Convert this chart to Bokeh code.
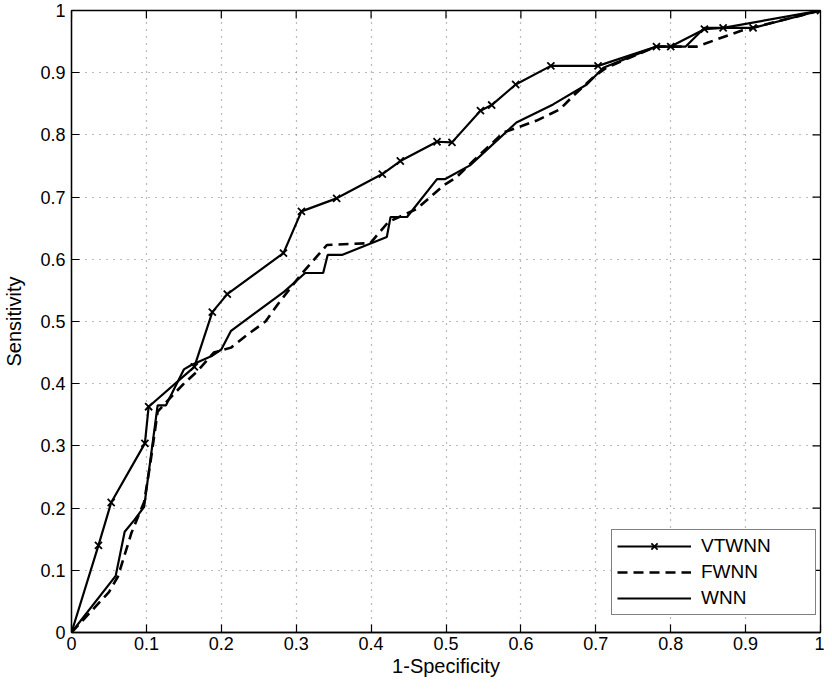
import math
from bokeh.plotting import figure
from bokeh.models import Range1d, FixedTicker, Legend, LegendItem
from bokeh.embed import file_html
from bokeh.resources import INLINE

# ---- data ----
vtwnn_x = [0, 0.036, 0.053, 0.098, 0.103, 0.164, 0.188, 0.208, 0.283, 0.307, 0.354,
           0.415, 0.439, 0.488, 0.508, 0.546, 0.561, 0.593, 0.640, 0.703, 0.781,
           0.800, 0.845, 0.870, 0.910, 1.0]
vtwnn_y = [0, 0.140, 0.209, 0.304, 0.363, 0.427, 0.515, 0.544, 0.610, 0.677, 0.698,
           0.737, 0.758, 0.789, 0.788, 0.839, 0.848, 0.881, 0.911, 0.911, 0.942,
           0.942, 0.970, 0.972, 0.972, 1.0]

fwnn_x = [0, 0.050, 0.062, 0.080, 0.097, 0.105, 0.115, 0.130, 0.150, 0.168, 0.190,
          0.213, 0.235, 0.259, 0.275, 0.306, 0.341, 0.399, 0.423, 0.461, 0.497,
          0.514, 0.537, 0.577, 0.621, 0.652, 0.670, 0.696, 0.714, 0.745, 0.781,
          0.835, 0.895, 1.0]
fwnn_y = [0, 0.065, 0.090, 0.160, 0.210, 0.270, 0.355, 0.375, 0.400, 0.420, 0.450,
          0.458, 0.479, 0.500, 0.527, 0.575, 0.623, 0.626, 0.660, 0.681, 0.719,
          0.732, 0.759, 0.804, 0.823, 0.841, 0.863, 0.892, 0.908, 0.924, 0.942,
          0.942, 0.968, 1.0]

wnn_x = [0, 0.059, 0.071, 0.084, 0.097, 0.115, 0.126, 0.150, 0.160, 0.188, 0.200,
         0.213, 0.284, 0.312, 0.336, 0.342, 0.361, 0.421, 0.426, 0.448, 0.488,
         0.499, 0.532, 0.594, 0.643, 0.688, 0.710, 0.781, 0.820, 0.845, 0.870, 1.0]
wnn_y = [0, 0.091, 0.162, 0.181, 0.202, 0.365, 0.365, 0.423, 0.430, 0.445, 0.455,
         0.485, 0.548, 0.578, 0.578, 0.607, 0.607, 0.636, 0.668, 0.668, 0.729,
         0.729, 0.751, 0.820, 0.849, 0.881, 0.908, 0.942, 0.942, 0.972, 0.972, 1.0]

ticks = [0, 0.1, 0.2, 0.3, 0.4, 0.5, 0.6, 0.7, 0.8, 0.9, 1.0]
tick_labels = ["0", "0.1", "0.2", "0.3", "0.4", "0.5", "0.6", "0.7", "0.8", "0.9", "1"]

FONT = "Liberation Sans"

p = figure(width=824, height=684, output_backend="svg", toolbar_location=None,
           x_range=Range1d(0, 1), y_range=Range1d(0, 1),
           min_border_left=69, min_border_right=4, min_border_top=10, min_border_bottom=52,
           background_fill_color="white", border_fill_color="white")
p.outline_line_color = "black"
p.outline_line_width = 1.3

overrides = {t: l for t, l in zip(ticks, tick_labels)}

for ax in (p.xaxis[0], p.yaxis[0]):
    ax.ticker = FixedTicker(ticks=ticks)
    ax.major_label_overrides = overrides
    ax.major_tick_in = 8
    ax.major_tick_out = 0
    ax.minor_tick_in = 0
    ax.minor_tick_out = 0
    ax.axis_line_color = "black"
    ax.axis_line_width = 1.3
    ax.major_tick_line_color = "black"
    ax.major_tick_line_width = 1.2
    ax.major_label_text_font = FONT
    ax.major_label_text_font_size = "18px"
    ax.major_label_text_color = "black"
    ax.axis_label_text_font = FONT
    ax.axis_label_text_font_size = "20px"
    ax.axis_label_text_font_style = "normal"
    ax.axis_label_text_color = "black"

p.xaxis.axis_label = "1-Specificity"
p.yaxis.axis_label = "Sensitivity"
p.xaxis.major_label_standoff = 4
p.xaxis.axis_label_standoff = 2
p.yaxis.major_label_standoff = 6
p.yaxis.axis_label_standoff = 12

# mirror ticks on the top and right edges of the box (clipped to the frame)
top_y = [ticks[-1]] * len(ticks)
right_x = [ticks[-1]] * len(ticks)
p.scatter(ticks, top_y, marker="dash", angle=math.pi / 2, size=16,
          line_color="black", line_width=1.2)
p.scatter(right_x, ticks, marker="dash", size=16, line_color="black", line_width=1.2)

for g in (p.xgrid[0], p.ygrid[0]):
    g.ticker = FixedTicker(ticks=ticks[1:-1])
    g.grid_line_color = "#555555"
    g.grid_line_dash = "1 6"
    g.grid_line_width = 1.2
    g.grid_line_alpha = 0.8

r_v = p.line(vtwnn_x, vtwnn_y, line_color="black", line_width=2.2)
r_vm = p.scatter(vtwnn_x, vtwnn_y, marker="x", size=10, line_color="black", line_width=1.8)
r_f = p.line(fwnn_x, fwnn_y, line_color="black", line_width=2.6, line_dash="10 6")
r_w = p.line(wnn_x, wnn_y, line_color="black", line_width=2.2)

legend = Legend(items=[LegendItem(label="VTWNN", renderers=[r_v, r_vm]),
                       LegendItem(label="FWNN", renderers=[r_f]),
                       LegendItem(label="WNN", renderers=[r_w])],
                location=(540, 17))
legend.label_text_font = FONT
legend.label_text_font_size = "19px"
legend.label_text_color = "black"
legend.glyph_width = 74
legend.glyph_height = 22
legend.label_height = 22
legend.label_width = 109
legend.label_standoff = 10
legend.spacing = 4
legend.padding = 5
legend.margin = 0
legend.border_line_color = "black"
legend.border_line_width = 1.3
legend.background_fill_color = "white"
legend.background_fill_alpha = 1
p.add_layout(legend, "center")

open("out.html", "w").write(file_html(p, INLINE))
